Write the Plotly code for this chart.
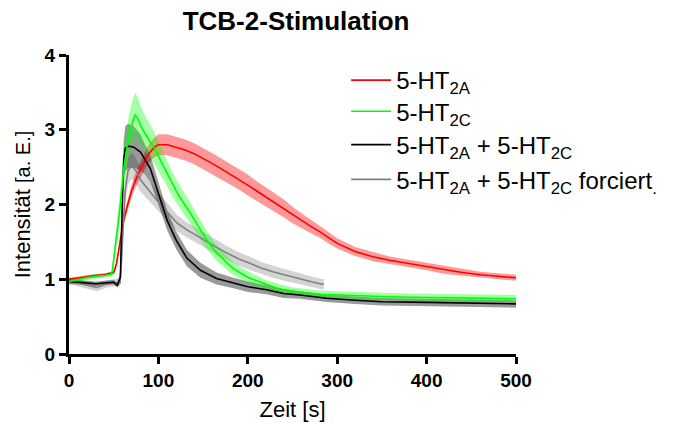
import plotly.graph_objects as go

# ---------------- data ----------------
# 5-HT2A (red)
t_2a = [0, 10, 20, 30, 40, 50, 53, 57, 61, 65, 70, 76, 82, 88, 95, 100, 110, 120, 130, 140,
        150, 160, 170, 180, 190, 200, 210, 220, 230, 240, 250, 260, 270, 280, 290, 300,
        320, 340, 360, 380, 400, 420, 440, 460, 480, 500]
m_2a = [1.00, 1.02, 1.04, 1.05, 1.06, 1.09, 1.20, 1.50, 1.78, 1.97, 2.18, 2.37, 2.52, 2.66, 2.76, 2.80, 2.80, 2.77, 2.73, 2.68,
        2.62, 2.55, 2.48, 2.41, 2.34, 2.26, 2.18, 2.10, 2.02, 1.95, 1.86, 1.78, 1.71, 1.64, 1.56, 1.48,
        1.37, 1.30, 1.25, 1.21, 1.17, 1.12, 1.09, 1.06, 1.04, 1.02]
s_2a = [0.02, 0.02, 0.02, 0.02, 0.02, 0.02, 0.04, 0.05, 0.06, 0.07, 0.08, 0.10, 0.11, 0.12, 0.13, 0.14, 0.14, 0.14, 0.14, 0.14,
        0.14, 0.14, 0.14, 0.14, 0.14, 0.14, 0.13, 0.13, 0.12, 0.12, 0.11, 0.10, 0.09, 0.08, 0.08, 0.07,
        0.06, 0.06, 0.05, 0.05, 0.05, 0.05, 0.04, 0.04, 0.04, 0.04]

# 5-HT2C (green)
t_2c = [0, 10, 20, 30, 40, 48, 50, 52, 55, 57, 59, 61, 64, 67, 71, 74, 77, 80, 85, 91, 97, 102,
        108, 113, 120, 127, 136, 145, 154, 163, 173, 182, 192, 201, 210, 220, 230, 240, 250,
        265, 280, 300, 320, 350, 380, 420, 460, 500]
m_2c = [0.97, 1.00, 1.02, 1.04, 1.05, 1.07, 1.25, 1.50, 1.75, 1.95, 2.20, 2.46, 2.70, 2.91, 3.10, 3.20, 3.15, 3.06, 2.95, 2.84, 2.72, 2.60,
        2.46, 2.33, 2.18, 2.04, 1.88, 1.70, 1.53, 1.38, 1.26, 1.16, 1.08, 1.02, 0.98, 0.93, 0.89, 0.86, 0.84,
        0.82, 0.80, 0.79, 0.78, 0.77, 0.76, 0.75, 0.75, 0.74]
s_2c = [0.03, 0.03, 0.03, 0.03, 0.03, 0.03, 0.10, 0.15, 0.18, 0.20, 0.22, 0.24, 0.26, 0.28, 0.30, 0.30, 0.28, 0.26, 0.24, 0.22, 0.21, 0.20,
        0.18, 0.17, 0.16, 0.15, 0.14, 0.13, 0.12, 0.11, 0.10, 0.09, 0.08, 0.08, 0.07, 0.06, 0.06, 0.06, 0.05,
        0.05, 0.05, 0.05, 0.05, 0.05, 0.05, 0.05, 0.05, 0.05]

# 5-HT2A + 5-HT2C (black)
t_ac = [0, 10, 20, 30, 40, 50, 54, 57.5, 58.6, 60.5, 61.2, 63, 66, 72, 80, 85, 91, 100, 110, 120,
        132, 147, 165, 184, 200, 221, 240, 258, 288, 320, 350, 400, 450, 500]
m_ac = [0.97, 0.96, 0.95, 0.94, 0.95, 0.96, 0.92, 1.03, 1.57, 2.33, 2.60, 2.75, 2.78, 2.77, 2.70, 2.60, 2.48, 2.15, 1.78, 1.52,
        1.28, 1.12, 1.01, 0.95, 0.90, 0.86, 0.81, 0.79, 0.745, 0.72, 0.70, 0.69, 0.68, 0.67]
s_ac = [0.03, 0.03, 0.03, 0.03, 0.03, 0.03, 0.03, 0.08, 0.15, 0.22, 0.26, 0.30, 0.30, 0.28, 0.24, 0.20, 0.18, 0.15, 0.13, 0.12,
        0.11, 0.10, 0.08, 0.07, 0.07, 0.06, 0.06, 0.05, 0.05, 0.05, 0.05, 0.05, 0.05, 0.05]

# 5-HT2A + 5-HT2C forciert (grey)
t_fo = [0, 5, 10, 20, 31, 43, 54, 57, 59, 61, 63, 66, 70, 75, 80, 90, 98, 110, 121, 132, 143, 155,
        166, 180, 190, 203, 215, 228, 240, 250, 260, 270, 277, 285]
m_fo = [0.97, 0.97, 0.95, 0.92, 0.89, 0.94, 0.96, 0.95, 1.30, 1.80, 2.20, 2.45, 2.52, 2.45, 2.33, 2.18, 2.06, 1.90, 1.75, 1.66, 1.58, 1.50,
        1.42, 1.33, 1.27, 1.21, 1.15, 1.10, 1.06, 1.03, 1.00, 0.97, 0.95, 0.93]
s_fo = [0.05, 0.05, 0.05, 0.05, 0.05, 0.05, 0.05, 0.05, 0.10, 0.15, 0.18, 0.18, 0.18, 0.17, 0.16, 0.14, 0.13, 0.12, 0.11, 0.10, 0.10, 0.10,
        0.10, 0.09, 0.09, 0.09, 0.08, 0.08, 0.08, 0.08, 0.07, 0.07, 0.07, 0.07]

series = [
    # name, t, mean, sem, line colour, band colour, legend id
    ("5-HT<sub>2A</sub>", t_2a, m_2a, s_2a, "#ff0000", "rgba(255,0,0,0.40)", "legend"),
    ("5-HT<sub>2A</sub> + 5-HT<sub>2C</sub> forciert<sub>.</sub>", t_fo, m_fo, s_fo, "#808080", "rgba(0,0,0,0.17)", "legend4"),
    ("5-HT<sub>2A</sub> + 5-HT<sub>2C</sub>", t_ac, m_ac, s_ac, "#000000", "rgba(0,0,0,0.40)", "legend3"),
    ("5-HT<sub>2C</sub>", t_2c, m_2c, s_2c, "#00ff00", "rgba(0,255,0,0.35)", "legend2"),
]

FONT = "Arial, Liberation Sans, sans-serif"

fig = go.Figure()

# SEM bands
for name, t, m, s, lc, bc, lg in series:
    upper = [a + b for a, b in zip(m, s)]
    lower = [a - b for a, b in zip(m, s)]
    fig.add_trace(go.Scatter(
        x=list(t) + list(t)[::-1], y=upper + lower[::-1],
        fill="toself", fillcolor=bc, line=dict(width=0), mode="lines",
        showlegend=False, hoverinfo="skip"))

# mean lines
for name, t, m, s, lc, bc, lg in series:
    fig.add_trace(go.Scatter(
        x=t, y=m, mode="lines", name=name, line=dict(color=lc, width=1.6),
        legend=lg))

leg_common = dict(x=0.62, xanchor="left", yanchor="top",
                  font=dict(size=24, family=FONT), bgcolor="rgba(0,0,0,0)",
                  itemwidth=40)

fig.update_layout(
    width=676, height=423,
    margin=dict(l=68.5, r=160, t=55, b=69, autoexpand=False),
    paper_bgcolor="white", plot_bgcolor="white",
    font=dict(family=FONT, color="black"),
    title=dict(text="<b>TCB-2-Stimulation</b>", font=dict(size=26, family=FONT),
               x=0.508, xref="paper", xanchor="center",
               y=1 - 21 / 423, yref="container", yanchor="middle"),
    legend=dict(y=0.99, **leg_common),
    legend2=dict(y=0.886, **leg_common),
    legend3=dict(y=0.774, **leg_common),
    legend4=dict(y=0.658, **leg_common),
    showlegend=True,
)

fig.update_xaxes(
    range=[0, 500], tickvals=[0, 100, 200, 300, 400, 500],
    showgrid=False, zeroline=False, showline=True, linecolor="black", linewidth=3,
    ticks="outside", ticklen=7, tickwidth=2.5, tickcolor="black",
    tickfont=dict(size=19, family=FONT, weight="bold"),
    title=dict(text="Zeit [s]", font=dict(size=22, family=FONT), standoff=12),
)
fig.update_yaxes(
    range=[0, 4], tickvals=[0, 1, 2, 3, 4],
    showgrid=False, zeroline=False, showline=True, linecolor="black", linewidth=3,
    ticks="outside", ticklen=7, tickwidth=2.5, tickcolor="black",
    tickfont=dict(size=19, family=FONT, weight="bold"),
    title=dict(text="Intensität <span style='font-size:20px'>[a. E.]</span>",
               font=dict(size=22, family=FONT), standoff=8),
)

fig.write_html("out.html")
